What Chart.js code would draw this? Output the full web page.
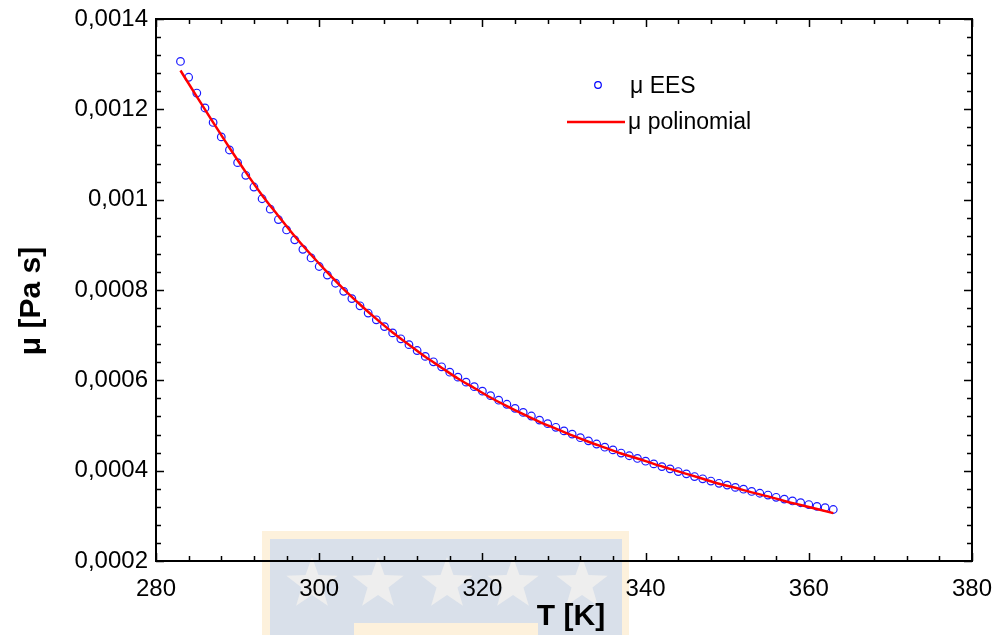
<!DOCTYPE html>
<html>
<head>
<meta charset="utf-8">
<script src="https://cdn.jsdelivr.net/npm/chart.js@4.4.1/dist/chart.umd.min.js"></script>
<style>
html,body{margin:0;padding:0;background:#fff;}
#wrap{width:998px;height:635px;position:relative;}
</style>
</head>
<body>
<div id="wrap"><canvas id="c" width="998" height="635"></canvas></div>
<script>
// ---- data ----
const eesT = [283,284,285,286,287,288,289,290,291,292,293,294,295,296,297,298,299,300,301,302,303,304,305,306,307,308,309,310,311,312,313,314,315,316,317,318,319,320,321,322,323,324,325,326,327,328,329,330,331,332,333,334,335,336,337,338,339,340,341,342,343,344,345,346,347,348,349,350,351,352,353,354,355,356,357,358,359,360,361,362,363];
const eesMu = [1.306,1.271,1.236,1.203,1.171,1.139,1.110,1.082,1.054,1.028,1.002,0.979,0.956,0.933,0.911,0.890,0.871,0.852,0.833,0.815,0.797,0.781,0.765,0.749,0.734,0.719,0.705,0.692,0.679,0.666,0.653,0.641,0.630,0.618,0.607,0.596,0.586,0.576,0.566,0.556,0.547,0.538,0.529,0.521,0.512,0.504,0.496,0.488,0.481,0.473,0.466,0.459,0.452,0.446,0.439,0.433,0.427,0.421,0.415,0.409,0.404,0.398,0.393,0.387,0.382,0.377,0.372,0.368,0.363,0.359,0.354,0.350,0.346,0.341,0.337,0.333,0.329,0.325,0.321,0.318,0.314]; // ×1e-3 Pa s
const polyT = [283,285,287,289,291,293,295,297,299,301,303,305,307,309,311,313,315,317,319,321,323,325,327,329,331,333,335,337,339,341,343,345,347,349,351,353,355,357,359,361,363];
const polyMu = [1.286,1.228,1.171,1.115,1.061,1.010,0.964,0.919,0.878,0.839,0.802,0.768,0.736,0.706,0.679,0.652,0.628,0.604,0.583,0.562,0.543,0.525,0.508,0.493,0.478,0.464,0.451,0.438,0.427,0.415,0.404,0.393,0.382,0.371,0.362,0.352,0.343,0.333,0.324,0.315,0.306]; // ×1e-3 Pa s
const xTicks = [280,300,320,340,360,380];
const yTicks = [0.0002,0.0004,0.0006,0.0008,0.001,0.0012,0.0014];
const seriesNames = ['μ EES','μ polinomial'];
const xTitle = 'T [K]';
const yTitle = 'μ [Pa s]';

const FONT = "'Liberation Sans', Arial, sans-serif";
const pts = eesT.map((t,i)=>({x:t,y:eesMu[i]*1e-3}));
const line = polyT.map((t,i)=>({x:t,y:polyMu[i]*1e-3}));
const fmt = v => String(Number(v.toPrecision(6))).replace('.', ',');

const deco = {
  id:'deco',
  beforeDraw(chart){
    const c = chart.ctx;
    c.save();
    // faint watermark behind the axis
    c.fillStyle = '#fdf1dc';
    c.fillRect(262,531,367,104);
    c.fillStyle = '#d9e0ea';
    c.fillRect(270,539,352,96);
    c.fillStyle = '#fdf1dc';
    c.fillRect(354,623,184,12);
    c.fillStyle = '#eeeeee';
    [312,378,447,513,582].forEach(cx=>{
      const cy=584, R=27, r=11;
      c.beginPath();
      for(let k=0;k<10;k++){
        const a = -Math.PI/2 + k*Math.PI/5;
        const rr = k%2===0?R:r;
        const px = cx+rr*Math.cos(a), py = cy+rr*Math.sin(a);
        k===0?c.moveTo(px,py):c.lineTo(px,py);
      }
      c.closePath(); c.fill();
    });
    c.restore();
  },
  afterDraw(chart){
    const c = chart.ctx, a = chart.chartArea;
    const xs = chart.scales.x, ys = chart.scales.y;
    c.save();
    c.strokeStyle = '#000';
    c.lineWidth = 1.5;
    // ticks
    for(let v=280; v<=380+1e-9; v+=4){
      const px = Math.round(xs.getPixelForValue(v))+0.5;
      const major = Math.abs((v-280)%20)<1e-9;
      const L = major?8:5;
      c.beginPath();
      c.moveTo(px,a.bottom); c.lineTo(px,a.bottom-L);
      c.moveTo(px,a.top); c.lineTo(px,a.top+L);
      c.stroke();
    }
    for(let k=0;k<=30;k++){
      const v = 0.0002 + k*0.00004;
      const py = Math.round(ys.getPixelForValue(v))+0.5;
      const L = (k%5===0)?8:5;
      c.beginPath();
      c.moveTo(a.left,py); c.lineTo(a.left+L,py);
      c.moveTo(a.right,py); c.lineTo(a.right-L,py);
      c.stroke();
    }
    // box
    c.lineWidth = 2;
    c.strokeRect(a.left, a.top, a.right-a.left, a.bottom-a.top);
    // axis titles
    c.fillStyle = '#000';
    c.font = 'bold 30px ' + FONT;
    c.textAlign = 'center'; c.textBaseline = 'middle';
    c.fillText(xTitle, 571, 617);
    c.translate(32, 301); c.rotate(-Math.PI/2);
    c.fillText(yTitle, 0, 0);
    c.restore();
    // legend
    c.save();
    c.font = '23px ' + FONT;
    c.fillStyle = '#000';
    c.textAlign = 'left'; c.textBaseline = 'middle';
    c.strokeStyle = '#0000ff'; c.lineWidth = 1.2;
    c.beginPath(); c.arc(598, 85, 3.3, 0, Math.PI*2); c.stroke();
    c.fillText(seriesNames[0], 630, 87);
    c.strokeStyle = '#ff0000'; c.lineWidth = 2.5;
    c.beginPath(); c.moveTo(567,122); c.lineTo(625,122); c.stroke();
    c.fillText(seriesNames[1], 628, 123);
    c.restore();
  }
};

new Chart(document.getElementById('c'), {
  type:'scatter',
  data:{datasets:[
    {label:seriesNames[1], data:line, showLine:true, pointRadius:0, borderColor:'#ff0000', borderWidth:2.5, cubicInterpolationMode:'monotone', order:1},
    {label:seriesNames[0], data:pts, pointRadius:3.8, pointBorderWidth:1.2, pointBorderColor:'#1a1aff', pointBackgroundColor:'rgba(0,0,0,0)', borderColor:'#1a1aff', order:2}
  ]},
  options:{
    responsive:false, animation:false, devicePixelRatio:1,
    layout:{padding:{top:19,right:26,left:0,bottom:0}},
    plugins:{legend:{display:false}, tooltip:{enabled:false}},
    scales:{
      x:{type:'linear', min:280, max:380,
        afterBuildTicks(s){ s.ticks = xTicks.map(v=>({value:v})); },
        afterFit(s){ s.height = 74; s.paddingLeft = 0; s.paddingRight = 0; },
        grid:{display:false, drawTicks:false}, border:{display:false},
        ticks:{padding:14, color:'#000', font:{family:FONT, size:24}, maxRotation:0, callback:v=>String(v)}},
      y:{type:'linear', min:0.0002, max:0.0014,
        afterBuildTicks(s){ s.ticks = yTicks.map(v=>({value:v})); },
        afterFit(s){ s.width = 156; s.paddingTop = 0; s.paddingBottom = 0; },
        grid:{display:false, drawTicks:false}, border:{display:false},
        ticks:{padding:8, color:'#000', font:{family:FONT, size:24}, callback:v=>fmt(v)}}
    }
  },
  plugins:[deco]
});
</script>
</body>
</html>
